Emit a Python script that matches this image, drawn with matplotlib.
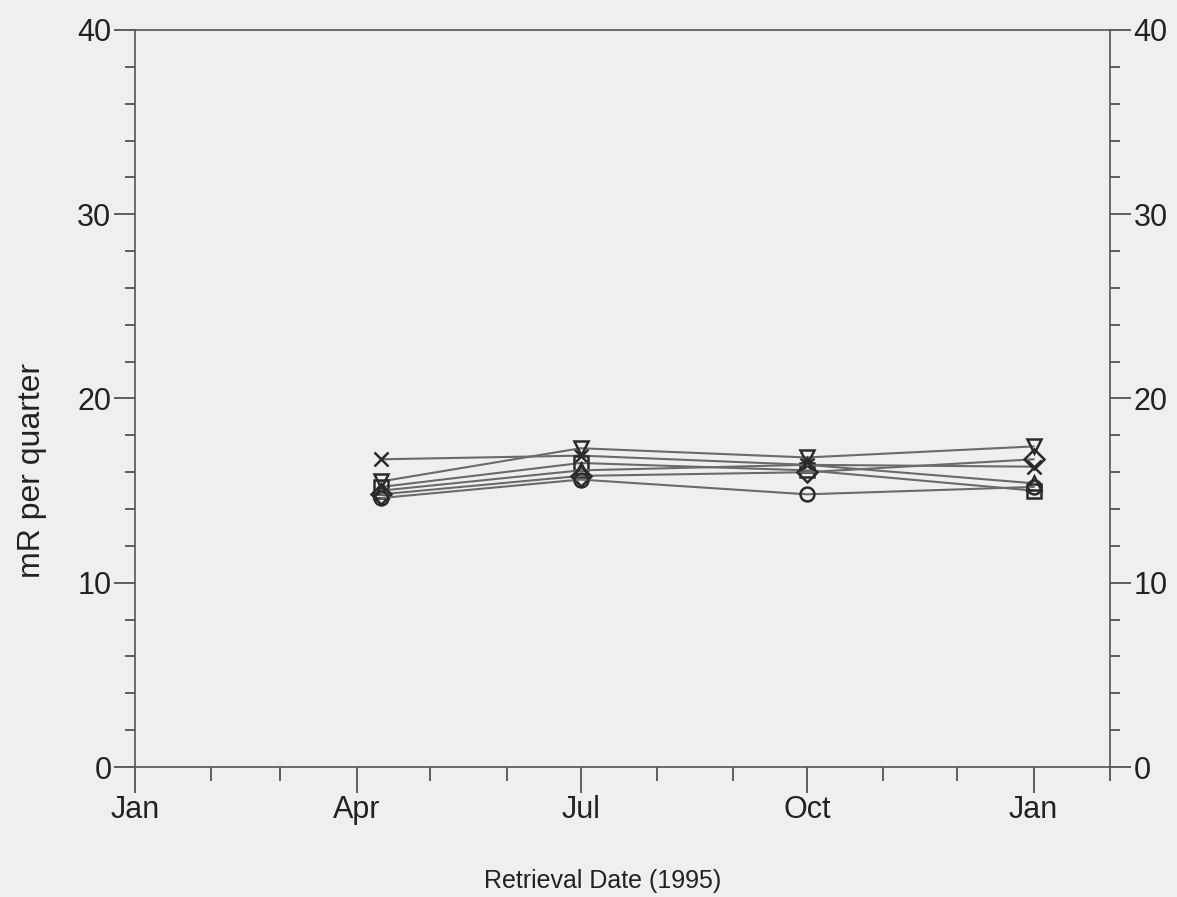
import datetime as dt
import matplotlib
matplotlib.use('Agg')
import matplotlib.pyplot as plt
import matplotlib.dates as mdates
from matplotlib.ticker import MultipleLocator

plt.rcParams['font.family'] = ['Liberation Sans', 'DejaVu Sans']

# retrieval dates
dates = [dt.date(1995, 4, 11), dt.date(1995, 7, 1), dt.date(1995, 10, 1), dt.date(1996, 1, 1)]

# mR per quarter for each monitoring station
station_x = [16.7, 16.9, 16.4, 16.3]
station_tri_down = [15.5, 17.3, 16.8, 17.4]
station_square = [15.2, 16.5, 16.1, 15.0]
station_tri_up = [15.0, 16.1, 16.4, 15.4]
station_diamond = [14.8, 15.8, 16.0, 16.7]
station_circle = [14.6, 15.6, 14.8, 15.2]

series = [
    (station_x, 'x'),
    (station_tri_down, 'v'),
    (station_square, 's'),
    (station_tri_up, '^'),
    (station_diamond, 'D'),
    (station_circle, 'o'),
]

bg = '#efefef'
fig = plt.figure(figsize=(11.77, 8.97), dpi=100, facecolor=bg)
ax = fig.add_axes([0.1147, 0.1449, 0.8283, 0.8217], facecolor=bg)

for vals, mk in series:
    ax.plot(dates, vals, color='#6a6a6a', lw=1.5, marker=mk, markersize=10,
            markerfacecolor='none', markeredgecolor='#2a2a2a', markeredgewidth=1.8)

ax.set_xlim(dt.date(1995, 1, 1), dt.date(1996, 2, 1))
ax.set_ylim(0, 40)

ax.xaxis.set_major_locator(mdates.MonthLocator(bymonth=[1, 4, 7, 10]))
ax.xaxis.set_major_formatter(mdates.DateFormatter('%b'))
ax.xaxis.set_minor_locator(mdates.MonthLocator())
ax.yaxis.set_major_locator(MultipleLocator(10))
ax.yaxis.set_minor_locator(MultipleLocator(2))

for s in ax.spines.values():
    s.set_color('#555555')
    s.set_linewidth(1.2)

ax.tick_params(axis='both', which='major', labelsize=22, color='#444444',
               labelcolor='#222222', width=1.2)
ax.tick_params(axis='x', which='major', length=19, pad=1)
ax.tick_params(axis='x', which='minor', length=10, color='#444444', width=1.2)
ax.tick_params(axis='y', which='major', length=15, pad=2,
               right=True, labelright=True)
ax.tick_params(axis='y', which='minor', length=7, color='#444444', width=1.2,
               right=True)

ax.set_ylabel('mR per quarter', fontsize=23, color='#222222')
ax.yaxis.set_label_coords(-0.09, 0.403)
ax.set_xlabel('Retrieval Date (1995)', fontsize=18, color='#222222')
ax.xaxis.set_label_coords(0.48, -0.138)

fig.savefig('out.png', dpi=100, facecolor=bg)
